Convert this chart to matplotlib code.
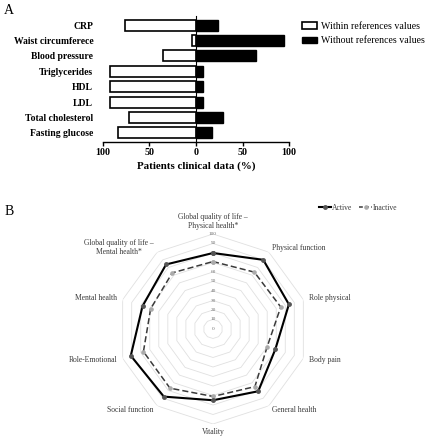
import numpy as np
import matplotlib
matplotlib.use("Agg")
import matplotlib.pyplot as plt
from matplotlib.patches import Patch
from matplotlib.lines import Line2D

plt.rcParams["font.family"] = ["Liberation Serif", "DejaVu Serif"]

# Panel A data
CLIN_LABELS = ["CRP", "Waist circumferece", "Blood pressure", "Triglycerides",
               "HDL", "LDL", "Total cholesterol", "Fasting glucose"]
WITHIN = [76, 4, 35, 92, 92, 92, 72, 84]
WITHOUT = [24, 95, 65, 8, 8, 8, 29, 17]
X_TICKS = [-100, -50, 0, 50, 100]
X_TICK_LABELS = ["100", "50", "0", "50", "100"]

# Panel B data
QOL_LABELS = ["Global quality of life \u2013\nPhysical health*", "Physical function",
              "Role physical", "Body pain", "General health", "Vitality",
              "Social function", "Role-Emotional", "Mental health",
              "Global quality of life \u2013\nMental health*"]
ACTIVE = [80, 90, 84, 69, 81, 75, 88, 91, 78, 84]
INACTIVE = [71, 74, 75, 60, 75, 71, 77, 77, 69, 73]
R_TICKS = list(range(0, 101, 10))

fig = plt.figure(figsize=(4.36, 4.40), dpi=100)

# ---- Panel A ----
ax = fig.add_axes([0.236, 0.677, 0.427, 0.287])
ypos = np.arange(len(CLIN_LABELS))[::-1]
ax.barh(ypos, [-v for v in WITHIN], height=0.72, color="white",
        edgecolor="black", linewidth=1.2, label="Within references values")
ax.barh(ypos, WITHOUT, height=0.72, color="black", edgecolor="black",
        linewidth=1.0, label="Without references values")
ax.set_xlim(-100, 100)
ax.set_ylim(-0.6, 7.6)
ax.set_yticks(ypos)
ax.set_yticklabels(CLIN_LABELS, fontsize=6.9, fontweight="bold")
ax.tick_params(axis="y", length=0, pad=7)
ax.set_xticks(X_TICKS)
ax.set_xticklabels(X_TICK_LABELS, fontsize=7.2, fontweight="bold")
ax.tick_params(axis="x", length=3, width=1, pad=1.5)
for s in ["top", "right", "left"]:
    ax.spines[s].set_visible(False)
ax.spines["bottom"].set_linewidth(1.0)
mid = ax.secondary_yaxis(0.5)
mid.set_yticks(ypos)
mid.tick_params(axis="y", length=2.5, width=0.8, labelleft=False, labelright=False)
mid.spines["left"].set_linewidth(1.0)
ax.set_xlabel("Patients clinical data (%)", fontsize=7.8, fontweight="bold", labelpad=3)
fig.legend(handles=[Patch(facecolor="white", edgecolor="black", linewidth=1.2),
                    Patch(facecolor="black", edgecolor="black")],
           labels=["Within references values", "Without references values"],
           loc="upper left", bbox_to_anchor=(0.672, 0.97), frameon=False,
           fontsize=7.1, handlelength=1.55, handleheight=0.7, handletextpad=0.4,
           labelspacing=0.55)
fig.text(0.008, 0.992, "A", fontsize=10, va="top", ha="left")

# ---- Panel B ----
rx = 95 / 436
ry = 95 / 440
cx, cy = 213 / 436, 1 - 329 / 440
pax = fig.add_axes([cx - rx, cy - ry, 2 * rx, 2 * ry], projection="polar")
pax.set_theta_zero_location("N")
pax.set_theta_direction(-1)
pax.set_ylim(0, 100)
pax.grid(False)
pax.set_xticks([])
pax.set_yticks([])
pax.spines["polar"].set_visible(False)
pax.patch.set_alpha(0)

n = len(QOL_LABELS)
theta = np.linspace(0, 2 * np.pi, n, endpoint=False)
theta_c = np.append(theta, theta[0])
for r in R_TICKS[1:]:
    pax.plot(theta_c, [r] * (n + 1), color="#e0e0e0", lw=0.6, zorder=1)
for r in R_TICKS:
    pax.text(0, r, str(r), fontsize=3.8, color="#707070", ha="center",
             va="center", zorder=2)

pax.plot(theta_c, ACTIVE + ACTIVE[:1], color="black", lw=1.5, marker="o",
         markersize=2.5, markerfacecolor="#555555", markeredgecolor="#555555",
         zorder=4)
pax.plot(theta_c, INACTIVE + INACTIVE[:1], color="#3a3a3a", lw=1.1, ls=(0, (4, 2)),
         marker="o", markersize=2.3, markerfacecolor="#aaaaaa",
         markeredgecolor="#aaaaaa", zorder=3)

for t, lab in zip(theta, QOL_LABELS):
    s = np.sin(t)
    c = np.cos(t)
    if abs(s) < 1e-6:
        ha = "center"
        va = "bottom" if c > 0 else "top"
        r = 104
    else:
        ha = "left" if s > 0 else "right"
        va = "center"
        r = 106
    pax.text(t, r, lab, fontsize=5.5, color="#3a3a3a", ha=ha, va=va,
             multialignment="center", clip_on=False)

fig.legend(handles=[Line2D([], [], color="black", lw=1.5, marker="o", markersize=2.5,
                           markerfacecolor="#555555", markeredgecolor="#555555"),
                    Line2D([], [], color="#3a3a3a", lw=1.1, ls=(0, (2.5, 1.5)), marker="o",
                           markersize=2.3, markerfacecolor="#aaaaaa",
                           markeredgecolor="#aaaaaa")],
           labels=["Active", "Inactive"], loc="center left",
           bbox_to_anchor=(0.715, 1 - 208 / 440), ncol=2, frameon=False,
           fontsize=5.5, handlelength=1.6, handletextpad=0.1, columnspacing=1.0,
           labelcolor="#3a3a3a")
fig.text(0.01, 1 - 205 / 440, "B", fontsize=10, va="top", ha="left")

fig.savefig("out.png", dpi=100)
